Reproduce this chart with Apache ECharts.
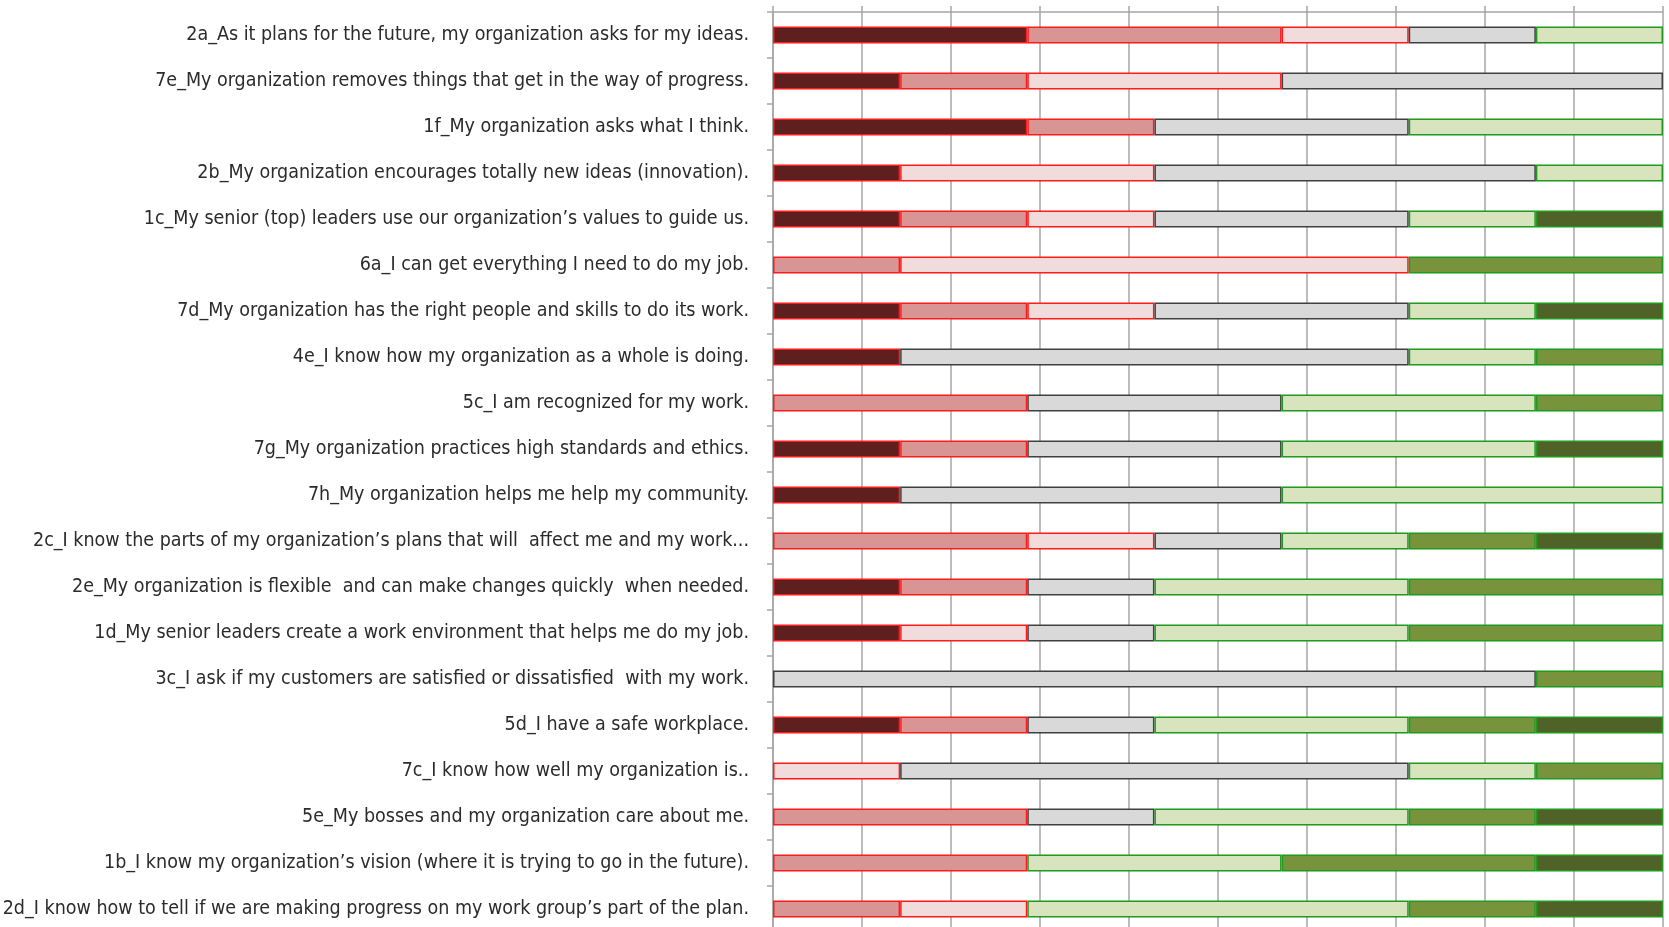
<!DOCTYPE html>
<html>
<head>
<meta charset="utf-8">
<script src="https://cdn.jsdelivr.net/npm/echarts@6/dist/echarts.min.js"></script>
<style>
html,body{margin:0;padding:0;background:#fff;}
#chart{width:1669px;height:927px;}
</style>
</head>
<body>
<div id="chart"></div>
<script>
// Survey items, listed top to bottom
const items = [
  "2a_As it plans for the future, my organization asks for my ideas.",
  "7e_My organization removes things that get in the way of progress.",
  "1f_My organization asks what I think.",
  "2b_My organization encourages totally new ideas (innovation).",
  "1c_My senior (top) leaders use our organization’s values to guide us.",
  "6a_I can get everything I need to do my job.",
  "7d_My organization has the right people and skills to do its work.",
  "4e_I know how my organization as a whole is doing.",
  "5c_I am recognized for my work.",
  "7g_My organization practices high standards and ethics.",
  "7h_My organization helps me help my community.",
  "2c_I know the parts of my organization’s plans that will  affect me and my work...",
  "2e_My organization is flexible  and can make changes quickly  when needed.",
  "1d_My senior leaders create a work environment that helps me do my job.",
  "3c_I ask if my customers are satisfied or dissatisfied  with my work.",
  "5d_I have a safe workplace.",
  "7c_I know how well my organization is..",
  "5e_My bosses and my organization care about me.",
  "1b_I know my organization’s vision (where it is trying to go in the future).",
  "2d_I know how to tell if we are making progress on my work group’s part of the plan."
];

// Number of responses per rating level (7 respondents per item)
const level1 = [2,1,2,1,1,0,1,1,0,1,1,0,1,1,0,1,0,0,0,0];
const level2 = [2,1,1,0,1,1,1,0,2,1,0,2,1,0,0,1,0,2,2,1];
const level3 = [1,2,0,2,1,4,1,0,0,0,0,1,0,1,0,0,1,0,0,1];
const level4 = [1,3,2,3,2,0,2,4,2,2,3,1,1,1,6,1,4,1,0,0];
const level5 = [1,0,2,1,1,0,1,1,2,2,3,1,2,2,0,2,1,2,2,3];
const level6 = [0,0,0,0,0,2,0,1,1,0,0,1,2,2,1,1,1,1,2,1];
const level7 = [0,0,0,0,1,0,1,0,0,1,0,1,0,0,0,1,0,1,1,1];

const respondents = 7;

const levels = [
  {name: "1", data: level1, color: "#5f1f1f", border: "#ff1a1a"},
  {name: "2", data: level2, color: "#d99594", border: "#ff1a1a"},
  {name: "3", data: level3, color: "#f2dcdb", border: "#ff1a1a"},
  {name: "4", data: level4, color: "#d9d9d9", border: "#404040"},
  {name: "5", data: level5, color: "#d7e4bd", border: "#1f9a1f"},
  {name: "6", data: level6, color: "#77933c", border: "#1f9a1f"},
  {name: "7", data: level7, color: "#4f6228", border: "#1f9a1f"}
];

const chart = echarts.init(document.getElementById('chart'));

chart.setOption({
  animation: false,
  backgroundColor: '#ffffff',
  grid: {left: 773, right: 6, top: 12, bottom: -5, containLabel: false, outerBoundsMode: 'none'},
  xAxis: {
    type: 'value',
    position: 'top',
    min: 0,
    max: 100,
    interval: 10,
    axisLine: {show: true, lineStyle: {color: '#a6a6a6', width: 1.5}},
    axisTick: {show: true, length: 6, inside: false, lineStyle: {color: '#a6a6a6', width: 1.5}},
    axisLabel: {show: false},
    splitLine: {show: true, lineStyle: {color: '#a6a6a6', width: 1.5}}
  },
  yAxis: {
    type: 'category',
    inverse: true,
    data: items,
    axisLine: {show: true, lineStyle: {color: '#a6a6a6', width: 1.5}},
    axisTick: {show: true, length: 6, lineStyle: {color: '#a6a6a6', width: 1.5}},
    axisLabel: {
      margin: 24,
      fontFamily: '"DejaVu Sans Condensed", "Liberation Sans", sans-serif',
      fontSize: 19.5,
      color: '#2b2b2b'
    }
  },
  series: levels.map(l => ({
    name: l.name,
    type: 'bar',
    stack: 'total',
    barWidth: 17,
    data: l.data.map(v => v === 0 ? '-' : v * 100 / respondents),
    itemStyle: {color: l.color, borderColor: l.border, borderWidth: 1.5}
  }))
});
</script>
</body>
</html>
